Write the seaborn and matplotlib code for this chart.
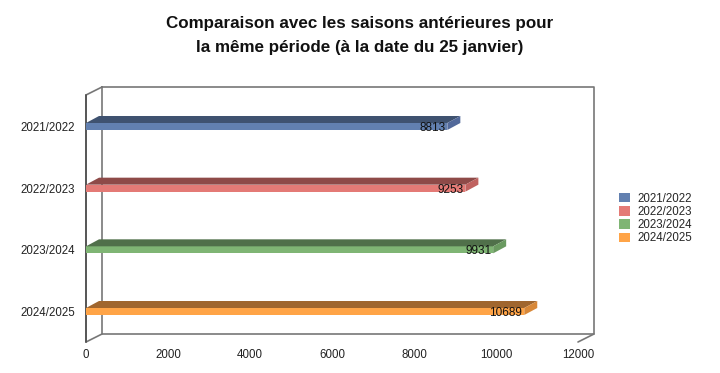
import numpy as np
import pandas as pd
import matplotlib.pyplot as plt
import seaborn as sns
from matplotlib.patches import Patch, Polygon
from matplotlib.lines import Line2D

seasons = ['2021/2022', '2022/2023', '2023/2024', '2024/2025']
totals = [8813, 9253, 9931, 10689]
front_colors = ['#6280B0', '#E47A76', '#7FB574', '#FFA447']
top_colors = ['#3F5270', '#8E4A48', '#50704A', '#A0662E']
side_colors = ['#52699A', '#C06260', '#6A9A60', '#D88838']

df = pd.DataFrame({'Saison': seasons, 'Total': totals})

sns.set_style('white')
plt.rcParams['font.family'] = ['Liberation Sans', 'DejaVu Sans']

W, H = 720, 373
fig = plt.figure(figsize=(W / 100, H / 100), dpi=100)
ax = fig.add_axes([86 / W, (H - 342) / H, 492 / W, 247 / H])

bar_h = 7 / 61.67
sns.barplot(data=df, y='Saison', x='Total', hue='Saison', palette=front_colors,
            orient='h', width=bar_h, legend=False, ax=ax, zorder=3,
            linewidth=0, saturation=1)

ax.set_xlim(0, 12000)
ax.set_ylim(3 + 30.5 / 61.67, -31.5 / 61.67)
ax.set_xticks(range(0, 12001, 2000))
ax.set_xlabel('')
ax.set_ylabel('')
ax.tick_params(axis='both', length=0, labelsize=8.3, colors='#222222')
ax.tick_params(axis='y', pad=8)
ax.tick_params(axis='x', pad=5)
for s in ax.spines.values():
    s.set_visible(False)

# pseudo 3D: pixel offsets converted to data units
x_per_px = 12000 / 492
y_per_px = (ax.get_ylim()[0] - ax.get_ylim()[1]) / 247
bdx, bdy = 13 * x_per_px, 7 * y_per_px
for i, p in enumerate(ax.patches):
    x0, y0 = p.get_x(), p.get_y()
    w, h = p.get_width(), p.get_height()
    top = [(x0, y0), (x0 + w, y0), (x0 + w + bdx, y0 - bdy), (x0 + bdx, y0 - bdy)]
    side = [(x0 + w, y0), (x0 + w, y0 + h), (x0 + w + bdx, y0 + h - bdy), (x0 + w + bdx, y0 - bdy)]
    ax.add_patch(Polygon(top, closed=True, fc=top_colors[i], ec='none', zorder=3))
    ax.add_patch(Polygon(side, closed=True, fc=side_colors[i], ec='none', zorder=3))
    ax.text(x0 + w - 2 * x_per_px, y0 + h / 2 + 1.5 * y_per_px, f'{totals[i]}',
            ha='right', va='center', fontsize=8.5, color='#111111', zorder=4)

# walls
fx, fy = 16 / 492, 8 / 247
lc, lw = '#777777', 1.2
wall = [
    ([fx, 1 + fx, 1 + fx, fx, fx], [1 + fy, 1 + fy, fy, fy, 1 + fy]),
    ([0, fx], [1, 1 + fy]),
    ([0, fx], [0, fy]),
    ([1, 1 + fx], [0, fy]),
]
for xs, ys in wall:
    ax.add_line(Line2D(xs, ys, transform=ax.transAxes, color=lc, lw=lw,
                       clip_on=False, zorder=1))
ax.add_line(Line2D([0, 0], [0, 1], transform=ax.transAxes, color='#555555', lw=1.4,
                   clip_on=False, zorder=1))

fig.suptitle('Comparaison avec les saisons antérieures pour\nla même période (à la date du 25 janvier)',
             x=0.5, y=1 - 16 / H, fontsize=12.25, fontweight='bold', linespacing=1.72, color='#111111')

handles = [Patch(fc=c, ec='none') for c in front_colors]
fig.legend(handles, seasons, loc='upper left', bbox_to_anchor=(613 / W, 1 - 187 / H),
           frameon=False, fontsize=8.3, handlelength=0.95, handleheight=0.85,
           handletextpad=0.7, labelspacing=0.1, borderpad=0)

fig.savefig('out.png', dpi=100)
